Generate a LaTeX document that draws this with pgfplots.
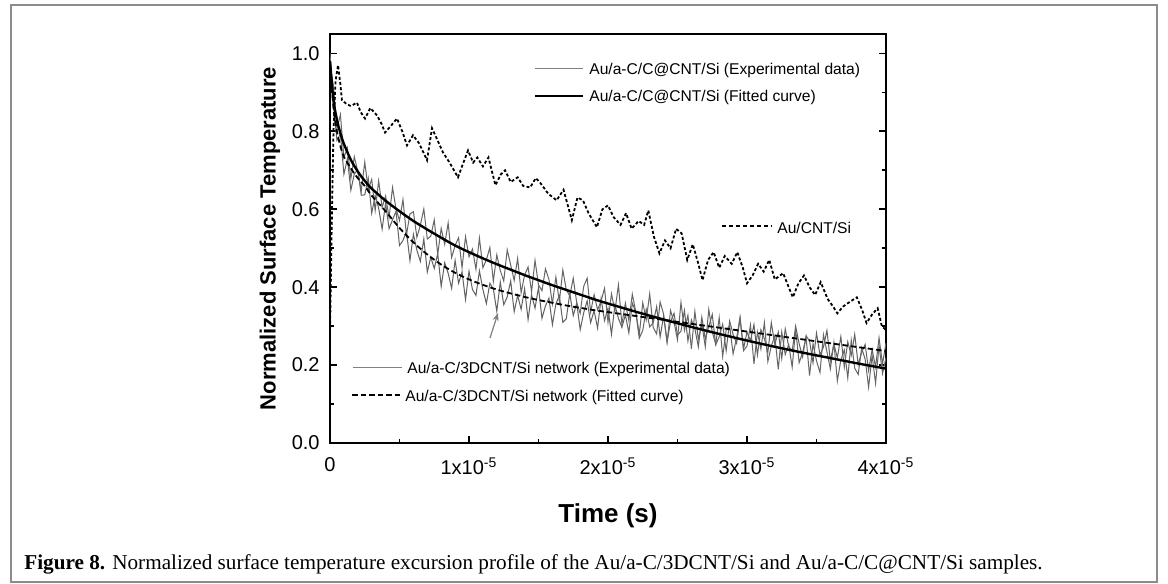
\documentclass[border=0pt]{standalone}
\usepackage{fontspec}
\setmainfont{Liberation Sans}
\newfontfamily\capfont{Liberation Serif}
\usepackage{pgfplots}
\pgfplotsset{compat=1.18}
\usepackage{pgfplotstable}
\usetikzlibrary{arrows.meta}

% time in microseconds (axis labelled in units of 1e-5 s)
\pgfplotstableread{
t f1 f2
0 0.98 0.98
0.25 0.88 0.86
0.5 0.83 0.80
0.75 0.795 0.762
1 0.768 0.735
1.5 0.727 0.705
2 0.697 0.680
2.5 0.673 0.660
3 0.653 0.635
4 0.622 0.595
5 0.595 0.552
6 0.570 0.515
7 0.548 0.484
8 0.527 0.458
9 0.507 0.437
10 0.490 0.420
11 0.474 0.406
12 0.459 0.394
13 0.445 0.384
14 0.431 0.375
15 0.418 0.367
16 0.405 0.360
17 0.393 0.353
18 0.381 0.347
19 0.369 0.341
20 0.358 0.336
22 0.337 0.326
24 0.317 0.316
26 0.298 0.306
28 0.280 0.296
30 0.263 0.286
32 0.247 0.276
34 0.232 0.266
36 0.218 0.256
38 0.204 0.246
40 0.191 0.236
}\fits

\pgfplotstableread{
t e1 e2
0 1.000 0.990
0.1 0.950 0.925
0.25 0.916 0.870
0.5 0.806 0.777
0.75 0.843 0.794
1 0.732 0.690
1.25 0.758 0.730
1.5 0.679 0.649
1.75 0.735 0.691
2 0.697 0.701
2.25 0.648 0.636
2.5 0.721 0.637
2.75 0.651 0.680
3 0.677 0.590
3.25 0.597 0.635
3.5 0.673 0.603
3.75 0.605 0.549
4 0.634 0.616
4.25 0.579 0.550
4.5 0.656 0.573
4.75 0.601 0.595
5 0.571 0.507
5.25 0.625 0.520
5.5 0.534 0.544
5.75 0.588 0.468
6 0.594 0.536
6.25 0.528 0.495
6.5 0.559 0.466
6.75 0.601 0.524
7 0.524 0.439
7.25 0.531 0.477
7.5 0.573 0.448
7.75 0.484 0.486
8 0.551 0.402
8.25 0.510 0.463
8.5 0.565 0.436
8.75 0.476 0.397
9 0.507 0.469
9.25 0.527 0.410
9.5 0.450 0.439
9.75 0.530 0.368
10 0.478 0.441
10.25 0.498 0.394
10.5 0.446 0.379
10.75 0.526 0.442
11 0.450 0.394
11.25 0.470 0.358
11.5 0.502 0.410
11.75 0.415 0.396
12 0.483 0.338
12.25 0.443 0.413
12.5 0.416 0.355
12.75 0.496 0.375
13 0.457 0.416
13.25 0.417 0.337
13.5 0.474 0.379
13.75 0.386 0.343
14 0.431 0.396
14.25 0.452 0.317
14.5 0.388 0.381
14.75 0.469 0.346
15 0.406 0.399
15.25 0.391 0.320
15.5 0.447 0.352
15.75 0.420 0.372
16 0.357 0.304
16.25 0.426 0.357
16.5 0.363 0.378
16.75 0.444 0.310
17 0.393 0.319
17.25 0.378 0.384
17.5 0.423 0.327
17.75 0.360 0.359
18 0.333 0.291
18.25 0.402 0.334
18.5 0.423 0.365
18.75 0.336 0.309
19 0.381 0.340
19.25 0.342 0.295
19.5 0.364 0.371
19.75 0.397 0.314
20 0.310 0.346
20.25 0.383 0.279
20.5 0.339 0.354
20.75 0.406 0.320
21 0.305 0.297
21.25 0.359 0.329
21.5 0.314 0.283
21.75 0.382 0.359
22 0.337 0.336
22.25 0.279 0.269
22.5 0.360 0.289
22.75 0.316 0.343
23 0.383 0.298
23.25 0.297 0.308
23.5 0.280 0.350
23.75 0.362 0.272
24 0.331 0.326
24.25 0.259 0.259
24.5 0.340 0.312
24.75 0.310 0.333
25 0.265 0.277
25.25 0.361 0.287
25.5 0.289 0.340
25.75 0.328 0.262
26 0.242 0.316
26.25 0.338 0.293
26.5 0.266 0.247
26.75 0.305 0.323
27 0.247 0.267
27.25 0.343 0.299
27.5 0.285 0.330
27.75 0.254 0.252
28 0.322 0.273
28.25 0.222 0.305
28.5 0.290 0.237
28.75 0.301 0.313
29 0.229 0.279
29.25 0.269 0.256
29.5 0.323 0.320
29.75 0.237 0.242
30 0.249 0.285
30.25 0.303 0.262
30.5 0.203 0.304
30.75 0.285 0.226
31 0.241 0.291
31.25 0.309 0.268
31.5 0.209 0.233
31.75 0.249 0.309
32 0.275 0.253
32.25 0.189 0.285
32.5 0.285 0.217
32.75 0.227 0.293
33 0.253 0.248
33.25 0.195 0.236
33.5 0.292 0.300
33.75 0.206 0.255
34 0.232 0.221
34.25 0.272 0.275
34.5 0.173 0.262
34.75 0.255 0.206
35 0.211 0.282
35.25 0.181 0.226
35.5 0.278 0.246
35.75 0.234 0.289
36 0.190 0.211
36.25 0.258 0.254
36.5 0.159 0.219
36.75 0.213 0.273
37 0.239 0.195
37.25 0.167 0.260
37.5 0.264 0.225
37.75 0.192 0.279
38 0.176 0.201
38.25 0.244 0.233
38.5 0.215 0.253
38.75 0.143 0.186
39 0.225 0.240
39.25 0.153 0.195
39.5 0.250 0.270
39.75 0.178 0.203
40 0.219 0.257
}\expdata

\pgfplotstableread{
t y
0 0.28
0.12 0.55
0.25 0.80
0.4 0.93
0.58 0.97
0.75 0.92
0.86 0.88
1.2 0.87
1.5 0.865
1.94 0.874
2.2 0.85
2.52 0.833
2.9 0.86
3.38 0.841
3.7 0.82
3.96 0.797
4.4 0.815
4.82 0.833
5.2 0.80
5.54 0.764
5.97 0.79
6.4 0.77
6.98 0.726
7.34 0.808
7.7 0.78
8.13 0.746
8.6 0.72
9.21 0.682
9.6 0.72
9.93 0.751
10.3 0.72
10.6 0.733
11.0 0.71
11.4 0.733
11.9 0.662
12.3 0.69
12.6 0.70
13.0 0.67
13.5 0.682
13.9 0.66
14.4 0.656
14.8 0.68
15.1 0.669
15.7 0.64
16.3 0.623
16.8 0.65
17.4 0.572
17.8 0.63
18.2 0.623
18.6 0.59
19.2 0.554
19.6 0.60
20.0 0.61
20.4 0.58
20.9 0.56
21.3 0.59
21.7 0.55
22.2 0.57
22.6 0.56
22.9 0.597
23.3 0.53
23.7 0.487
24.1 0.52
24.5 0.50
24.9 0.55
25.3 0.538
25.7 0.47
26.1 0.51
26.5 0.46
26.8 0.418
27.2 0.47
27.6 0.49
28.0 0.45
28.4 0.48
28.9 0.46
29.3 0.49
29.7 0.45
30.0 0.41
30.4 0.43
30.8 0.46
31.2 0.44
31.6 0.47
32.0 0.42
32.6 0.436
33.0 0.40
33.3 0.374
33.7 0.41
34.1 0.43
34.5 0.40
34.9 0.38
35.3 0.413
35.8 0.37
36.2 0.35
36.5 0.333
36.9 0.35
37.3 0.36
37.9 0.374
38.3 0.34
38.6 0.308
39.0 0.33
39.4 0.346
39.7 0.30
40.0 0.29
}\cnt

\begin{document}
\begin{tikzpicture}[x=0.5pt,y=0.5pt]
\useasboundingbox (0,0) rectangle (1168,584);
\fill[white] (0,0) rectangle (1168,584);
\draw[black!45, line width=1pt] (11,2) rectangle (1157,579);
\coordinate (O) at (330,141);

\begin{axis}[
    at={(O)}, anchor=south west,
    scale only axis,
    width=278pt, height=204.5pt,
    xmin=0, xmax=40, ymin=0, ymax=1.05,
    xtick={0,10,20,30,40},
    xticklabels={0,1x10\textsuperscript{-5},2x10\textsuperscript{-5},3x10\textsuperscript{-5},4x10\textsuperscript{-5}},
    ytick={0,0.2,0.4,0.6,0.8,1.0},
    minor x tick num=1, minor y tick num=1,
    xtick pos=left,
    tick align=inside,
    major tick length=3.5pt, minor tick length=2pt,
    axis line style={line width=1pt},
    every tick/.style={black, line width=0.9pt},
    /pgf/number format/assume math mode=true,
    /pgf/number format/fixed,
    /pgf/number format/fixed zerofill,
    /pgf/number format/precision=1,
    tick label style={font=\fontsize{10}{12}\selectfont, inner sep=0pt},
    xticklabel style={anchor=north, yshift=-7pt},
    yticklabel style={anchor=east, xshift=-5pt},
    every axis y label/.style={at={(axis description cs:0,0.5)}, rotate=90, anchor=center, yshift=30pt,
        font=\fontsize{11}{13}\selectfont\bfseries},
    every axis x label/.style={at={(axis description cs:0.5,0)}, anchor=base, yshift=-39.5pt,
        font=\fontsize{13}{15}\selectfont\bfseries},
    xlabel={Time (s)},
    ylabel={Normalized Surface Temperature},
]
\addplot[black!62, line width=0.5pt] table[x=t, y=e2] {\expdata};
\addplot[black!60, line width=0.5pt] table[x=t, y=e1] {\expdata};
\addplot[black, line width=1.2pt, smooth] table[x=t, y=f1] {\fits};
\addplot[black, line width=0.9pt, dash pattern=on 2.75pt off 1.5pt, smooth] table[x=t, y=f2] {\fits};
\addplot[black, line width=0.9pt, dash pattern=on 1.5pt off 1.1pt] table[x=t, y=y] {\cnt};
\end{axis}

% legend entries placed as in the original figure
\tikzset{lg/.style={anchor=west, inner sep=0pt, font=\fontsize{7.8}{9}\selectfont}}
\draw[black!50, line width=0.5pt] (535,515) -- (583,515);
\node[lg] at (589,514) {Au/a-C/C@CNT/Si (Experimental data)};
\draw[black, line width=1.2pt] (535,488) -- (583,488);
\node[lg] at (589,487) {Au/a-C/C@CNT/Si (Fitted curve)};
\draw[black, line width=0.9pt, dash pattern=on 2pt off 1.5pt] (722,358) -- (772,358);
\node[lg] at (777,356) {Au/CNT/Si};
\draw[black!50, line width=0.5pt] (353,216) -- (402,216);
\node[lg] at (407,215) {Au/a-C/3DCNT/Si network (Experimental data)};
\draw[black, line width=0.9pt, dash pattern=on 2.75pt off 1.5pt] (352,189) -- (403,189);
\node[lg] at (405,187) {Au/a-C/3DCNT/Si network (Fitted curve)};

\draw[black!50, line width=0.6pt, -{Stealth[length=4pt, width=3pt]}] (490,246) -- (498,271);

\node[anchor=base west, inner sep=0pt, font=\capfont\fontsize{10.6}{13}\selectfont] at (24,14)
  {\textbf{Figure 8.} Normalized surface temperature excursion profile of the Au/a-C/3DCNT/Si and Au/a-C/C@CNT/Si samples.};
\end{tikzpicture}
\end{document}
